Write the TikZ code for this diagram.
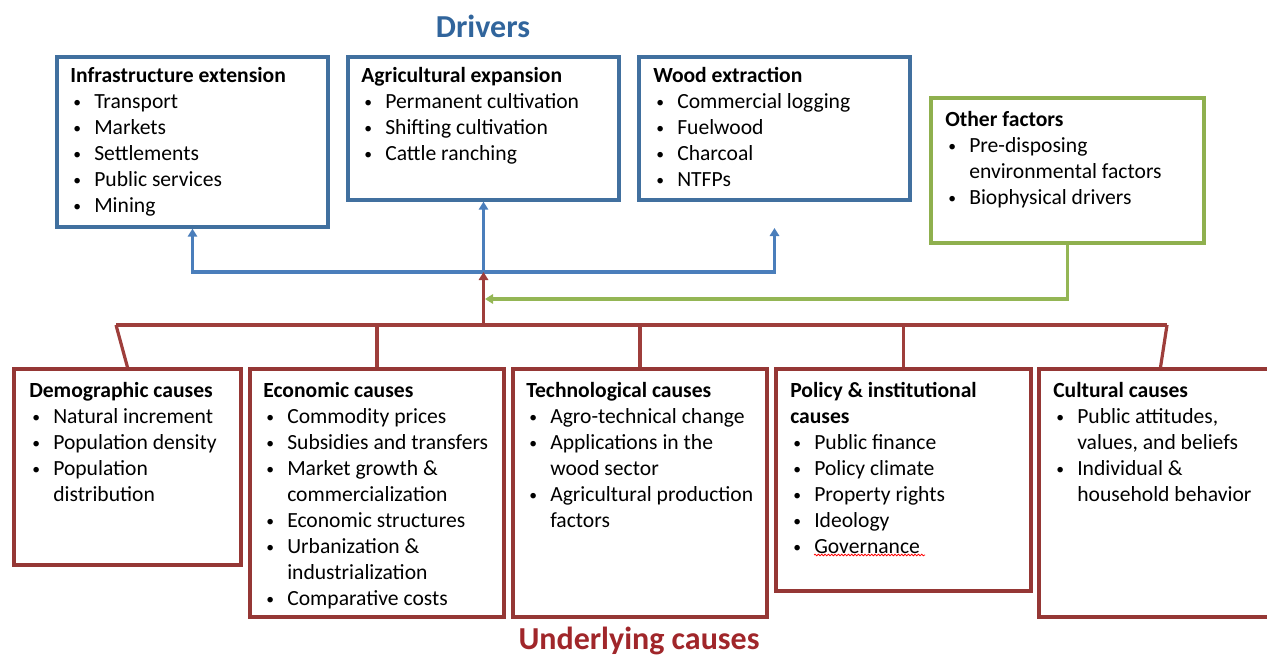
\documentclass[tikz,border=0pt]{standalone}
\usepackage{fontspec}
\setmainfont{Carlito}
\usetikzlibrary{arrows.meta,fit,decorations.pathmorphing}
\definecolor{boxblue}{HTML}{41709F}
\definecolor{lineblue}{HTML}{4A7EBB}
\definecolor{boxred}{HTML}{953735}
\definecolor{linered}{HTML}{9E3E3B}
\definecolor{boxgreen}{HTML}{8FB04E}
\definecolor{linegreen}{HTML}{94B655}
\definecolor{drvblue}{HTML}{31659C}
\definecolor{ucred}{HTML}{A0262A}
\newcommand\bi{\hspace*{2.25pt}\makebox[15.75pt][l]{\raisebox{0.6pt}{\scalebox{0.72}{\textbullet}}}}
\newcommand\ci{\hspace*{18pt}}
\begin{document}
\begin{tikzpicture}[x={(0.75pt,0)},y={(0,-0.75pt)},
  boxbase/.style={line width=2.5pt, inner sep=0pt},
  bluebox/.style={boxbase, draw=boxblue},
  redbox/.style={boxbase, draw=boxred},
  greenbox/.style={boxbase, draw=boxgreen},
  txt/.style={anchor=north west, inner sep=0pt, align=left, font=\fontsize{16.2}{19.5}\selectfont},
  ttl/.style={anchor=base, inner sep=0pt, font=\bfseries\fontsize{24}{26}\selectfont},
  arr/.style={-{Triangle[width=7pt,length=6pt]}},
  bline/.style={draw=lineblue, line width=2.4pt},
  rline/.style={draw=linered, line width=2.4pt},
  gline/.style={draw=linegreen, line width=2.4pt}]
\useasboundingbox (0,0) rectangle (1267,656);
\clip (0,0) rectangle (1267,656);

% titles
\node[ttl, text=drvblue] (drivers) at (483,38) {Drivers};
\node[ttl, text=ucred] (underlying) at (639,649.5) {Underlying causes};

% driver boxes
\node[bluebox, fit={(57,57) (328,227)}] (infra) {};
\node[bluebox, fit={(348,57) (619,200)}] (agri) {};
\node[bluebox, fit={(639,57) (910,200)}] (wood) {};
\node[greenbox, fit={(931,98) (1204,243)}] (other) {};

% underlying boxes
\node[redbox, fit={(14,369) (241,565)}] (demo) {};
\node[redbox, fit={(250,369) (504,617)}] (econ) {};
\node[redbox, fit={(513,369) (767,617)}] (tech) {};
\node[redbox, fit={(776,369) (1031,591)}] (pol) {};
\node[redbox, fit={(1039,369) (1282,617)}] (cult) {};

% texts
\node[txt] (tinfra) at (70,67) {\textbf{Infrastructure extension}\\\bi Transport\\\bi Markets\\\bi Settlements\\\bi Public services\\\bi Mining};
\node[txt] (tagri) at (361,67) {\textbf{Agricultural expansion}\\\bi Permanent cultivation\\\bi Shifting cultivation\\\bi Cattle ranching};
\node[txt] (twood) at (653,67) {\textbf{Wood extraction}\\\bi Commercial logging\\\bi Fuelwood\\\bi Charcoal\\\bi NTFPs};
\node[txt] (tother) at (945,111) {\textbf{Other factors}\\\bi Pre-disposing\\\ci environmental factors\\\bi Biophysical drivers};

\node[txt] (tdemo) at (29,382) {\textbf{Demographic causes}\\\bi Natural increment\\\bi Population density\\\bi Population\\\ci distribution};
\node[txt] (tecon) at (263,382) {\textbf{Economic causes}\\\bi Commodity prices\\\bi Subsidies and transfers\\\bi Market growth \&\\\ci commercialization\\\bi Economic structures\\\bi Urbanization \&\\\ci industrialization\\\bi Comparative costs};
\node[txt] (ttech) at (526,382) {\textbf{Technological causes}\\\bi Agro-technical change\\\bi Applications in the\\\ci wood sector\\\bi Agricultural production\\\ci factors};
\node[txt] (tpol) at (790,382) {\textbf{Policy \& institutional}\\\textbf{causes}\\\bi Public finance\\\bi Policy climate\\\bi Property rights\\\bi Ideology\\\bi Governance};
\node[txt] (tcult) at (1053,382) {\textbf{Cultural causes}\\\bi Public attitudes,\\\ci values, and beliefs\\\bi Individual \&\\\ci household behavior};

\draw[red, line width=0.6pt, decorate, decoration={snake,amplitude=0.6pt,segment length=2.5pt}] (814,555) -- (925,555);

% connectors
\coordinate (jb) at (483.5,272);
\coordinate (jr) at (483.5,325);
\coordinate (woodtip) at (774.5,228);
\coordinate (gtip) at (485,299);
\coordinate (rl) at (116,325);
\coordinate (rr) at (1167,325);

\draw[bline,arr] (jb) -| (infra.south);
\draw[bline,arr] (jb) -- (agri.south);
\draw[bline,arr] (jb) -| (woodtip);
\draw[rline,arr] (jr) -- (jb);
\draw[gline,arr] (other.south) |- (gtip);

\draw[rline] (rl) -- (rr);
\draw[rline] (rl) -- (demo.north);
\draw[rline] (econ.north |- rl) -- (econ.north);
\draw[rline] (tech.north |- rl) -- (tech.north);
\draw[rline] (pol.north |- rl) -- (pol.north);
\draw[rline] (rr) -- (cult.north);
\end{tikzpicture}
\end{document}
